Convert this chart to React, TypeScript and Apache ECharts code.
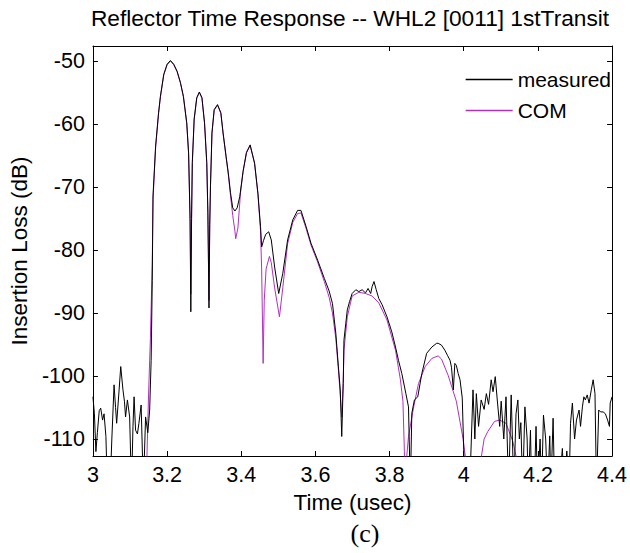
import React, { useEffect, useRef } from "react";
import * as echarts from "echarts";

const FONT = '"Liberation Sans", Arial, sans-serif';

const titleText = "Reflector Time Response -- WHL2 [0011] 1stTransit";
const xAxisName = "Time (usec)";
const yAxisName = "Insertion Loss (dB)";
const seriesNames = ["measured", "COM"];
const xTicks = { min: 3, max: 4.4, step: 0.2 };
const yRange = { min: -112.7, max: -47.6, step: 10 };

const measuredTime = [
  3.000, 3.004, 3.008, 3.012, 3.017, 3.021, 3.026, 3.030, 3.035, 3.039,
  3.046, 3.051, 3.057, 3.061, 3.064, 3.070, 3.075, 3.081, 3.085, 3.088,
  3.093, 3.099, 3.104, 3.108, 3.111, 3.115, 3.120, 3.124, 3.130, 3.136,
  3.142, 3.148, 3.153, 3.157, 3.160, 3.162, 3.169, 3.177, 3.182, 3.191,
  3.200, 3.209, 3.218, 3.227, 3.236, 3.244, 3.253, 3.258, 3.260, 3.262,
  3.264, 3.266, 3.268, 3.273, 3.280, 3.287, 3.294, 3.301, 3.307, 3.310,
  3.313, 3.315, 3.317, 3.321, 3.327, 3.336, 3.345, 3.351, 3.359, 3.365,
  3.371, 3.377, 3.383, 3.389, 3.396, 3.405, 3.414, 3.424, 3.436, 3.445,
  3.452, 3.455, 3.460, 3.466, 3.474, 3.481, 3.490, 3.501, 3.512, 3.525,
  3.539, 3.552, 3.561, 3.575, 3.588, 3.606, 3.624, 3.637, 3.646, 3.655,
  3.662, 3.667, 3.671, 3.675, 3.677, 3.682, 3.686, 3.692, 3.699, 3.709,
  3.717, 3.726, 3.735, 3.742, 3.749, 3.753, 3.758, 3.764, 3.771, 3.780,
  3.793, 3.806, 3.816, 3.824, 3.833, 3.844, 3.851, 3.856, 3.860, 3.867,
  3.876, 3.887, 3.900, 3.914, 3.927, 3.931, 3.940, 3.949, 3.956, 3.963,
  3.967, 3.972, 3.976, 3.980, 3.985, 3.990, 3.996, 4.003, 4.016, 4.025,
  4.030, 4.034, 4.040, 4.047, 4.055, 4.061, 4.067, 4.074, 4.079, 4.085,
  4.090, 4.097, 4.101, 4.108, 4.114, 4.121, 4.128, 4.135, 4.141, 4.146,
  4.150, 4.154, 4.159, 4.165, 4.171, 4.174, 4.180, 4.183, 4.190, 4.195,
  4.199, 4.206, 4.210, 4.215, 4.221, 4.226, 4.232, 4.235, 4.241, 4.245,
  4.257, 4.266, 4.271, 4.278, 4.284, 4.288, 4.293, 4.299, 4.304, 4.311,
  4.315, 4.320, 4.324, 4.328, 4.333, 4.338, 4.344, 4.349, 4.354, 4.358,
  4.364, 4.369, 4.376, 4.382, 4.388, 4.393, 4.395, 4.400,
];
const measuredDb = [
  -103.3, -106, -112, -109, -105.5, -105.1, -107, -106, -109.6, -118,
  -118, -110, -101.4, -105, -107.5, -102.7, -98.5, -102.2, -104, -106.5,
  -103.8, -106.5, -118, -108, -103.3, -108.6, -109.2, -107.5, -104.6, -118,
  -106.5, -109, -105.4, -97.5, -84.8, -71.4, -63.5, -58.2, -55.6, -52.1,
  -50.5, -49.9, -50.5, -51.6, -53.4, -55.6, -59.8, -64.6, -69.8, -75.1,
  -89.8, -75, -66.1, -59.2, -55.8, -54.9, -55.8, -59.8, -66.1, -74,
  -89.2, -76, -69.8, -61.4, -57.7, -56.9, -58.2, -61.4, -65.1, -67.7,
  -70.9, -73.3, -73.8, -73.3, -71.5, -67.5, -64.5, -63.3, -66.2, -71,
  -76.3, -79.5, -78.5, -77.5, -77.1, -78.4, -82.7, -86.9, -83.7, -78.4,
  -75.2, -73.7, -73.7, -76.3, -78.9, -81.6, -84.5, -86.5, -88.5, -93.2,
  -98.5, -102.2, -109.6, -101.2, -94.3, -91.6, -89.5, -88.2, -86.9, -86.3,
  -86.6, -86.3, -86.8, -86.1, -86.9, -85.8, -85.0, -86.3, -87.7, -88.7,
  -90.6, -93.0, -95.4, -97.5, -99.6, -102.8, -104.9, -118, -105.9, -103.8,
  -103.3, -99.6, -96.4, -95.4, -94.8, -94.8, -95.1, -95.9, -96.7, -97.5,
  -98.6, -102.2, -98.0, -98.3, -99.6, -100.6, -103.5, -118, -118, -102.2,
  -110, -102.8, -108, -103.8, -105.3, -102.8, -104.5, -100.6, -102.5, -100.1,
  -103.5, -108, -104, -110, -103.3, -118, -103, -118, -106, -103.8,
  -110, -107.4, -118, -104.9, -110, -118, -108.6, -118, -118, -108,
  -118, -110, -118, -106.2, -110, -118, -109.5, -118, -106.7, -118,
  -118, -111.5, -118, -111.9, -118, -107.5, -104.3, -110, -107, -105.4,
  -108, -104.9, -103.3, -103.8, -103, -104.3, -102.2, -100.6, -102.8, -118,
  -105.4, -105.7, -105.7, -106, -107, -108, -104.3, -103.3,
];

const comTime = [
  3.140, 3.146, 3.150, 3.155, 3.160, 3.162, 3.169, 3.177, 3.182, 3.191,
  3.200, 3.209, 3.218, 3.227, 3.236, 3.244, 3.253, 3.258, 3.260, 3.262,
  3.264, 3.266, 3.268, 3.273, 3.280, 3.287, 3.294, 3.301, 3.307, 3.310,
  3.313, 3.315, 3.317, 3.321, 3.327, 3.336, 3.345, 3.351, 3.359, 3.365,
  3.371, 3.377, 3.383, 3.385, 3.391, 3.398, 3.405, 3.414, 3.424, 3.436,
  3.445, 3.452, 3.455, 3.459, 3.462, 3.467, 3.476, 3.481, 3.490, 3.503,
  3.512, 3.525, 3.539, 3.552, 3.561, 3.575, 3.588, 3.606, 3.624, 3.637,
  3.646, 3.655, 3.662, 3.667, 3.671, 3.675, 3.677, 3.686, 3.699, 3.717,
  3.735, 3.753, 3.771, 3.793, 3.816, 3.829, 3.836, 3.840, 3.842, 3.846,
  3.851, 3.865, 3.878, 3.896, 3.914, 3.931, 3.940, 3.958, 3.980, 3.998,
  4.007, 4.012, 4.040, 4.047, 4.055, 4.065, 4.083, 4.097, 4.114, 4.132,
  4.146, 4.152,
];
const comDb = [
  -125, -112, -103, -94, -82, -72, -63.8, -58.3, -55.7, -52.2,
  -50.6, -50.0, -50.6, -51.7, -53.5, -55.7, -59.9, -64.7, -70, -75.5,
  -87, -75, -66.3, -59.3, -55.9, -55.0, -55.9, -59.9, -66.3, -74.5,
  -88, -76, -70, -61.5, -57.8, -57.0, -58.3, -61.5, -65.2, -68,
  -71.3, -74.5, -77, -78.2, -76.5, -70.9, -67.5, -64.6, -63.4, -66.3,
  -71.2, -77, -83, -98, -88, -83, -81, -82, -86, -90.6,
  -86, -79, -75.6, -74.2, -74.1, -76.6, -79.2, -81.9, -85, -87.5,
  -90, -94, -99, -103, -106.5, -101, -95.9, -90.6, -87.3, -86.7,
  -86.9, -87.3, -88.4, -91.1, -95.9, -100.5, -104, -112, -125, -113,
  -109.6, -104.9, -101.2, -98.5, -97.2, -96.8, -97.3, -99.9, -104, -109.9,
  -114, -125, -125, -113, -110, -108.8, -107.2, -107, -107.5, -110.3,
  -114, -125,
];

const COM_COLOR = "#b030c0";

export default function App() {
  const ref = useRef<HTMLDivElement>(null);
  useEffect(() => {
    if (!ref.current) return;
    const chart = echarts.init(ref.current, null, { renderer: "svg" });
    const measured = measuredTime.map((t, i) => [t, measuredDb[i]]);
    const com = comTime.map((t, i) => [t, comDb[i]]);
    const axisLine = { show: true, lineStyle: { color: "#000", width: 1 } };
    const axisTick = { show: true, inside: true, length: 5, lineStyle: { color: "#000", width: 1 } };
    const labelStyle = { color: "#000", fontSize: 21.5, fontFamily: FONT };
    const nameStyle = { color: "#000", fontSize: 22.5, fontFamily: FONT };
    chart.setOption({
      animation: false,
      backgroundColor: "#fff",
      title: {
        text: titleText,
        left: 350,
        top: 6,
        textAlign: "center",
        padding: 0,
        textStyle: { color: "#000", fontSize: 22.7, fontWeight: "normal", fontFamily: FONT },
      },
      legend: {
        data: seriesNames,
        orient: "vertical",
        left: 465,
        top: 69,
        padding: 0,
        itemWidth: 47,
        itemHeight: 20,
        itemGap: 10,
        itemStyle: { opacity: 0 },
        lineStyle: { width: 1.3 },
        textStyle: { color: "#000", fontSize: 21, fontFamily: FONT },
      },
      grid: { left: 92, right: 15, top: 46, height: 410, containLabel: false },
      xAxis: [
        {
          type: "value",
          position: "bottom",
          min: xTicks.min,
          max: xTicks.max,
          interval: xTicks.step,
          axisLine,
          axisTick,
          splitLine: { show: false },
          axisLabel: { ...labelStyle, margin: 8 },
          name: xAxisName,
          nameLocation: "middle",
          nameGap: 24,
          nameTextStyle: nameStyle,
        },
        {
          type: "value",
          position: "top",
          min: xTicks.min,
          max: xTicks.max,
          interval: xTicks.step,
          axisLine,
          axisTick,
          splitLine: { show: false },
          axisLabel: { show: false },
        },
      ],
      yAxis: [
        {
          type: "value",
          position: "left",
          min: yRange.min,
          max: yRange.max,
          minInterval: yRange.step,
          maxInterval: yRange.step,
          axisLine,
          axisTick,
          splitLine: { show: false },
          axisLabel: { ...labelStyle, margin: 8, showMinLabel: false, showMaxLabel: false },
          name: yAxisName,
          nameLocation: "middle",
          nameGap: 60,
          nameRotate: 90,
          nameTextStyle: nameStyle,
        },
        {
          type: "value",
          position: "right",
          min: yRange.min,
          max: yRange.max,
          minInterval: yRange.step,
          maxInterval: yRange.step,
          axisLine,
          axisTick,
          splitLine: { show: false },
          axisLabel: { show: false },
        },
      ],
      graphic: [
        {
          type: "text",
          x: 365,
          y: 533,
          style: {
            text: "(c)",
            fontSize: 26,
            fontFamily: '"Liberation Serif", "Times New Roman", serif',
            fill: "#000",
            align: "center",
            verticalAlign: "middle",
          },
        },
      ],
      series: [
        {
          name: seriesNames[0],
          type: "line",
          xAxisIndex: 0,
          yAxisIndex: 0,
          data: measured,
          symbol: "none",
          z: 3,
          clip: true,
          lineStyle: { color: "#000", width: 1 },
          itemStyle: { color: "#000" },
        },
        {
          name: seriesNames[1],
          type: "line",
          xAxisIndex: 0,
          yAxisIndex: 0,
          data: com,
          symbol: "none",
          z: 2,
          clip: true,
          lineStyle: { color: COM_COLOR, width: 1 },
          itemStyle: { color: COM_COLOR },
        },
      ],
    });
    return () => chart.dispose();
  }, []);
  return (
    <div
      ref={ref}
      style={{ position: "fixed", left: 0, top: 0, width: 630, height: 553, background: "#fff" }}
    />
  );
}
